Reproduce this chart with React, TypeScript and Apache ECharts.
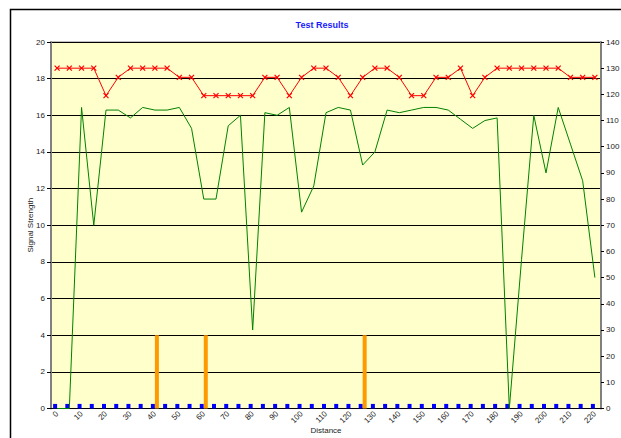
import React, { useEffect, useRef } from 'react';
import * as echarts from 'echarts';

const distances = ['0','5','10','15','20','25','30','35','40','45','50','55','60','65','70','75','80','85','90','95','100','105','110','115','120','125','130','135','140','145','150','155','160','165','170','175','180','185','190','195','200','205','210','215','220'];

const redSeries = [130,130,130,130,119.5,126.5,130,130,130,130,126.5,126.5,119.5,119.5,119.5,119.5,119.5,126.5,126.5,119.5,126.5,130,130,126.5,119.5,126.5,130,130,126.5,119.5,119.5,126.5,126.5,130,119.5,126.5,130,130,130,130,130,130,126.5,126.5,126.5];

const greenSeries = [0,0,115,70,114,114,111,115,114,114,115,107,80,80,108,112,30,113,112,115,75,85,113,115,114,93,98,114,113,114,115,115,114,110.5,107,110,111,0,57,112,90,115,101,87,50];

const blueSeries = [0.25,0.25,0.25,0.25,0.25,0.25,0.25,0.25,0.25,0.25,0.25,0.25,0.25,0.25,0.25,0.25,0.25,0.25,0.25,0.25,0.25,0.25,0.25,0.25,0.25,0.25,0.25,0.25,0.25,0.25,0.25,0.25,0.25,0.25,0.25,0.25,0.25,0.25,0.25,0.25,0.25,0.25,0.25,0.25,0.25];

const orangeSeries = [null,null,null,null,null,null,null,null,4,null,null,null,4,null,null,null,null,null,null,null,null,null,null,null,null,4,null,null,null,null,null,null,null,null,null,null,null,null,null,null,null,null,null,null,null];

const FONT = "'Liberation Sans', Arial, sans-serif";

export default function App() {
  const ref = useRef<HTMLDivElement>(null);
  useEffect(() => {
    if (!ref.current) return;
    const chart = echarts.init(ref.current, null, { renderer: 'svg' });
    chart.setOption({
      animation: false,
      backgroundColor: '#ffffff',
      textStyle: { fontFamily: FONT },
      graphic: [
        {
          type: 'rect',
          shape: { x: 10.5, y: 9.5, width: 700, height: 500 },
          style: { fill: 'none', stroke: '#000', lineWidth: 1.5 },
          silent: true,
          z: 100,
        },
        {
          type: 'text',
          x: 322,
          y: 25,
          style: {
            text: 'Test Results',
            align: 'center',
            verticalAlign: 'middle',
            fill: '#1a1aff',
            font: `bold 9px ${FONT}`,
          },
        },
      ],
      grid: {
        left: 51,
        right: 20,
        top: 42,
        bottom: 29.5,
        show: true,
        backgroundColor: '#FFFFCC',
        borderColor: '#808080',
        borderWidth: 1,
        containLabel: false,
        outerBoundsMode: 'none',
      },
      xAxis: {
        type: 'category',
        data: distances,
        boundaryGap: true,
        name: 'Distance',
        nameLocation: 'middle',
        nameGap: 18,
        nameMoveOverlap: false,
        nameTextStyle: { fontSize: 8, color: '#222', fontFamily: FONT },
        axisLine: { lineStyle: { color: '#000', width: 1 } },
        axisTick: { interval: 0, length: 3, lineStyle: { color: '#000' } },
        axisLabel: { interval: 1, rotate: 45, fontSize: 8, color: '#222', margin: 4, fontFamily: FONT },
        splitLine: { show: false },
      },
      yAxis: [
        {
          type: 'value',
          min: 0,
          max: 20,
          interval: 2,
          position: 'left',
          name: 'Signal Strength',
          nameLocation: 'middle',
          nameGap: 17,
          nameMoveOverlap: false,
          nameTextStyle: { fontSize: 8, color: '#222', fontFamily: FONT },
          axisLine: { show: true, lineStyle: { color: '#808080', width: 2 } },
          axisTick: { show: true, length: 4, lineStyle: { color: '#000' } },
          axisLabel: { fontSize: 8, color: '#222', margin: 6, fontFamily: FONT },
          splitLine: { show: true, lineStyle: { color: '#000', width: 1 } },
        },
        {
          type: 'value',
          min: 0,
          max: 140,
          interval: 10,
          position: 'right',
          axisLine: { show: true, lineStyle: { color: '#808080', width: 2 } },
          axisTick: { show: true, length: 3, lineStyle: { color: '#000' } },
          axisLabel: { fontSize: 8, color: '#222', margin: 5, fontFamily: FONT },
          splitLine: { show: false },
        },
      ],
      series: [
        {
          type: 'bar',
          yAxisIndex: 0,
          data: blueSeries,
          barWidth: 4,
          barGap: '0%',
          itemStyle: { color: '#0000FF' },
          z: 2,
        },
        {
          type: 'bar',
          yAxisIndex: 0,
          data: orangeSeries,
          barWidth: 4,
          barGap: '0%',
          itemStyle: { color: '#FF9900' },
          z: 2,
        },
        {
          type: 'line',
          yAxisIndex: 1,
          data: greenSeries,
          symbol: 'none',
          lineStyle: { color: '#008000', width: 1 },
          z: 3,
        },
        {
          type: 'line',
          yAxisIndex: 1,
          data: redSeries,
          symbol: 'path://M0,0L10,10M10,0L0,10',
          symbolSize: 5,
          lineStyle: { color: '#FF0000', width: 1 },
          itemStyle: { color: '#FF0000', borderColor: '#FF0000', borderWidth: 1.2 },
          z: 4,
        },
      ],
    });
    return () => chart.dispose();
  }, []);
  return (
    <div
      ref={ref}
      style={{ position: 'fixed', left: 0, top: 0, width: 621, height: 438, overflow: 'hidden' }}
    />
  );
}
